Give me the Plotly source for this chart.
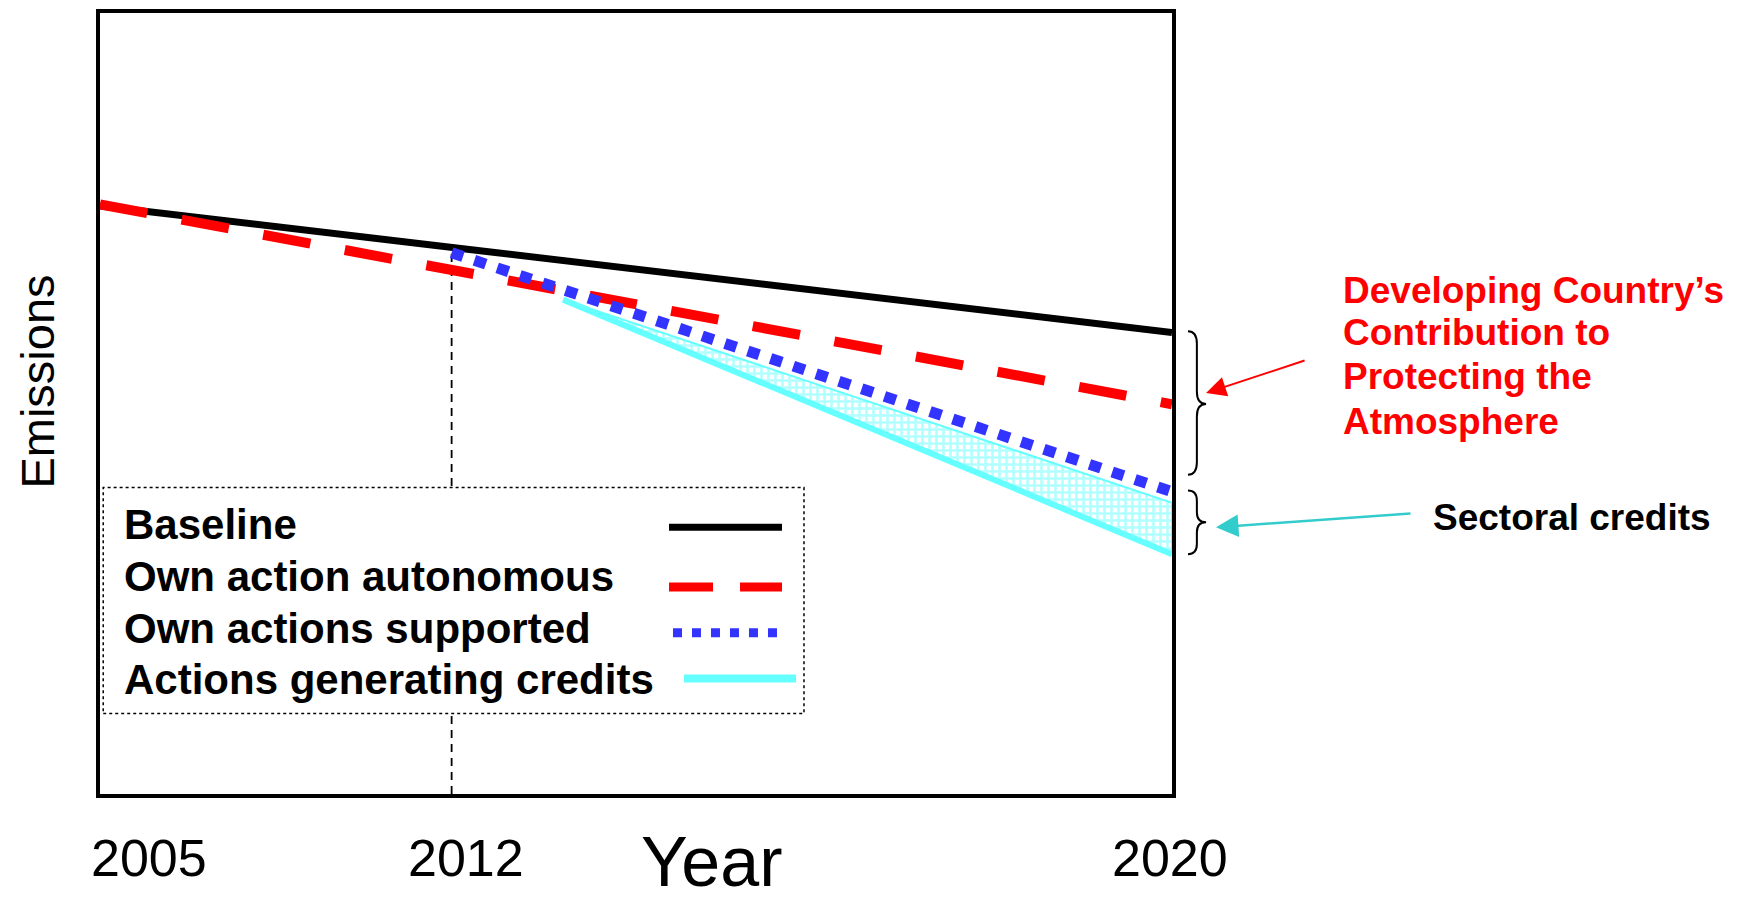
import plotly.graph_objects as go

# ---------------- data (schematic timeline positions 0..100, emissions index 0..100)
tick_positions = [0, 32.8, 100]
tick_labels = ["2005", "2012", "2020"]

baseline_x = [0, 100]
baseline_y = [75.3, 59.1]

autonomous_x = [0, 100]
autonomous_y = [75.5, 49.9]

supported_x = [32.8, 100]
supported_y = [69.3, 38.7]

credits_x = [43.2, 100]
credits_lower = [63.3, 30.7]
credits_upper = [63.3, 37.3]

legend_labels = ["Baseline", "Own action autonomous", "Own actions supported",
                 "Actions generating credits"]

FONT = "Arial, Liberation Sans, sans-serif"
CYAN = "#66FFFF"
BLUE = "#3333FF"
RED = "#FF0000"

fig = go.Figure()

# 2012 marker line (from axis bottom up to the start of supported actions)
fig.add_trace(go.Scatter(x=[supported_x[0], supported_x[0]], y=[0, supported_y[0]],
                         mode="lines", line=dict(color="black", width=1.8, dash="8px,6px"),
                         hoverinfo="skip", showlegend=False))

# hatched area between credits lines
fig.add_trace(go.Scatter(x=credits_x + credits_x[::-1], y=credits_upper + credits_lower[::-1],
                         mode="lines", fill="toself", fillcolor="white",
                         fillpattern=dict(shape="+", fgcolor=CYAN, bgcolor="white", size=7, solidity=0.6),
                         line=dict(color=CYAN, width=2), hoverinfo="skip", showlegend=False))

fig.add_trace(go.Scatter(x=baseline_x, y=baseline_y, mode="lines",
                         line=dict(color="black", width=7), name=legend_labels[0], showlegend=False))
fig.add_trace(go.Scatter(x=credits_x, y=credits_lower, mode="lines",
                         line=dict(color=CYAN, width=6), name=legend_labels[3], showlegend=False))
fig.add_trace(go.Scatter(x=autonomous_x, y=autonomous_y, mode="lines",
                         line=dict(color=RED, width=10, dash="48px,35px"), name=legend_labels[1], showlegend=False))
fig.add_trace(go.Scatter(x=supported_x, y=supported_y, mode="lines",
                         line=dict(color=BLUE, width=11, dash="12px,12px"), name=legend_labels[2], showlegend=False))

shapes = []
annotations = []

# custom legend box
shapes.append(dict(type="rect", xref="paper", yref="paper", x0=0.003, x1=0.6567, y0=0.1032, y1=0.3924,
                   line=dict(color="black", width=1.5, dash="dot"), fillcolor="white", layer="above"))
legend_rows_y = [0.3446, 0.2782, 0.2118, 0.1468]
sample_styles = [
    dict(x0=0.5308, x1=0.6362, y=0.3414, color="black", width=7, dash="solid"),
    dict(x0=0.5308, x1=0.6362, y=0.2650, color=RED, width=9, dash="44px,27px"),
    dict(x0=0.5345, x1=0.6380, y=0.2064, color=BLUE, width=9, dash="9px,10px"),
    dict(x0=0.5448, x1=0.6493, y=0.1478, color=CYAN, width=8, dash="solid"),
]
for lab, yy, st in zip(legend_labels, legend_rows_y, sample_styles):
    annotations.append(dict(xref="paper", yref="paper", x=0.0205, y=yy, text=lab, showarrow=False,
                            xanchor="left", yanchor="middle",
                            font=dict(family=FONT, size=42, color="black", weight="bold")))
    shapes.append(dict(type="line", xref="paper", yref="paper", x0=st["x0"], x1=st["x1"], y0=st["y"], y1=st["y"],
                       line=dict(color=st["color"], width=st["width"], dash=st["dash"]), layer="above"))

# braces
def brace(x0, xm, x1, ytop, ymid, ybot, r):
    return (f"M{x0},{ytop} Q{xm},{ytop} {xm},{ytop - r} L{xm},{ymid + r} Q{xm},{ymid} {x1},{ymid} "
            f"Q{xm},{ymid} {xm},{ymid - r} L{xm},{ybot + r} Q{xm},{ybot} {x0},{ybot}")

shapes.append(dict(type="path", xref="paper", yref="paper",
                   path=brace(1.0149, 1.0232, 1.0318, 0.5924, 0.4994, 0.4089, 0.016),
                   line=dict(color="black", width=2)))
shapes.append(dict(type="path", xref="paper", yref="paper",
                   path=brace(1.0149, 1.0232, 1.0318, 0.3885, 0.3478, 0.3070, 0.013),
                   line=dict(color="black", width=2)))

# arrows
annotations.append(dict(xref="paper", yref="paper", x=1.0318, y=0.5134, ax=100, ay=-33, text="",
                        showarrow=True, arrowhead=2, arrowsize=2, arrowwidth=2, arrowcolor=RED))
annotations.append(dict(xref="paper", yref="paper", x=1.0410, y=0.3414, ax=196, ay=-14, text="",
                        showarrow=True, arrowhead=2, arrowsize=1.8, arrowwidth=2.5, arrowcolor="#33CCCC"))

# red explanatory text
red_lines = ["Developing Country\u2019s", "Contribution to", "Protecting the", "Atmosphere"]
red_y = [0.6441, 0.5903, 0.5340, 0.4773]
for t, yy in zip(red_lines, red_y):
    annotations.append(dict(xref="paper", yref="paper", x=1.1576, y=yy, text=t, showarrow=False,
                            xanchor="left", yanchor="middle",
                            font=dict(family=FONT, size=37, color=RED, weight="bold")))

annotations.append(dict(xref="paper", yref="paper", x=1.2416, y=0.3541, text="Sectoral credits",
                        showarrow=False, xanchor="left", yanchor="middle",
                        font=dict(family=FONT, size=37, color="black", weight="bold")))

# axis labels
annotations.append(dict(xref="paper", yref="paper", x=-0.0583, y=0.5274, text="Emissions", textangle=-90,
                        showarrow=False, xanchor="center", yanchor="middle",
                        font=dict(family=FONT, size=47, color="black")))
annotations.append(dict(xref="paper", yref="paper", x=0.570, y=-0.087, text="Year",
                        showarrow=False, xanchor="center", yanchor="middle",
                        font=dict(family=FONT, size=70, color="black")))

tick_anchor = ["left", "center", "center"]
tick_shift = [-11, 14, -2]
for pos, lab, anc, sh in zip(tick_positions, tick_labels, tick_anchor, tick_shift):
    annotations.append(dict(xref="x", yref="paper", x=pos, y=-0.0815, text=lab, showarrow=False,
                            xanchor=anc, yanchor="middle", xshift=sh,
                            font=dict(family=FONT, size=52, color="black")))

fig.update_layout(
    width=1739, height=900, autosize=False,
    margin=dict(l=100, r=567, t=9, b=106),
    paper_bgcolor="white", plot_bgcolor="white",
    showlegend=False,
    shapes=shapes, annotations=annotations,
    xaxis=dict(range=[0, 100], showgrid=False, zeroline=False, showticklabels=False, ticks="",
               showline=True, linecolor="black", linewidth=4, mirror=True, fixedrange=True),
    yaxis=dict(range=[0, 100], showgrid=False, zeroline=False, showticklabels=False, ticks="",
               showline=True, linecolor="black", linewidth=4, mirror=True, fixedrange=True),
)

fig.write_html("out.html", config={"displayModeBar": False},
               post_script="document.body.style.margin='0';document.body.style.overflow='hidden';")
